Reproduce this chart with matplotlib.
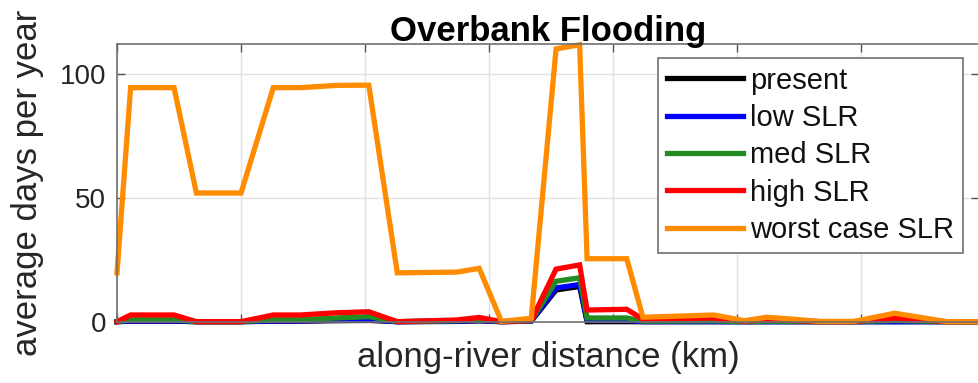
import matplotlib
matplotlib.use("Agg")
import matplotlib.pyplot as plt
import numpy as np

plt.rcParams['font.family'] = ['Liberation Sans', 'DejaVu Sans']

# along-river distance (km) of each sample point
distance_km = [0.0, 0.22, 0.92, 1.28, 2.0, 2.52, 2.96, 3.54, 4.06, 4.52, 5.48, 5.84,
               6.20, 6.68, 7.08, 7.46, 7.58, 8.22, 8.48, 9.62, 10.12, 10.48, 10.90,
               11.34, 11.88, 12.54, 13.38, 13.90]

present = [0.0, 0.2, 0.2, 0.0, 0.0, 0.2, 0.2, 0.4, 0.5, 0.0, 0.1, 0.3,
           0.0, 0.2, 12.8, 14.2, 0.0, 0.0, 0.0, 0.0, 0.0, 0.0, 0.0,
           0.0, 0.0, 0.0, 0.0, 0.0]
low_slr = [0.0, 0.3, 0.3, 0.0, 0.0, 0.3, 0.3, 0.6, 0.8, 0.0, 0.2, 0.5,
           0.0, 0.3, 13.6, 15.0, 0.5, 0.5, 0.0, 0.0, 0.0, 0.0, 0.0,
           0.0, 0.0, 0.0, 0.0, 0.0]
med_slr = [0.0, 0.8, 0.8, 0.0, 0.0, 0.8, 0.8, 1.5, 2.0, 0.0, 0.4, 0.9,
           0.0, 0.4, 16.3, 17.7, 1.5, 1.5, 0.2, 0.3, 0.0, 0.2, 0.1,
           0.0, 0.0, 0.5, 0.0, 0.0]
high_slr = [0.0, 2.7, 2.7, 0.0, 0.0, 2.7, 2.7, 3.6, 4.0, 0.0, 0.7, 1.7,
            0.0, 0.5, 21.2, 22.9, 4.7, 5.0, 1.0, 1.5, 0.2, 0.8, 0.5,
            0.0, 0.0, 1.5, 0.0, 0.0]
worst_slr = [19.7, 94.4, 94.4, 51.9, 51.9, 94.4, 94.4, 95.3, 95.4, 19.7, 20.0, 21.5,
             0.1, 1.4, 110.0, 111.7, 25.4, 25.4, 1.8, 2.7, 0.4, 1.8, 1.0,
             0.1, 0.1, 3.4, 0.0, 0.0]

series_labels = ['present', 'low SLR', 'med SLR', 'high SLR', 'worst case SLR']
series_colors = ['#000000', '#0000ff', '#228b22', '#ff0000', '#ff8c00']
y_ticks = [0, 50, 100]

fig = plt.figure(figsize=(9.79, 3.83), dpi=100)
ax = fig.add_axes([0.1195, 0.1601, 0.8805, 0.7250])

for vals, lab, col in zip([present, low_slr, med_slr, high_slr, worst_slr],
                          series_labels, series_colors):
    ax.plot(distance_km, vals, color=col, lw=3.8, label=lab, clip_on=False,
            solid_joinstyle='miter')

ax.set_xlim(0, 13.90)
ax.set_ylim(0, 112)
ax.set_xticks(np.arange(0, 13.9, 2.0))
ax.set_xticklabels([])
ax.set_yticks(y_ticks)
ax.set_yticklabels([str(t) for t in y_ticks])
ax.grid(True, color='#e2e2e2', lw=1.0)
ax.set_axisbelow(True)
ax.tick_params(direction='in', length=6, width=1, top=True, right=True,
               colors='#555555', labelcolor='#262626', labelsize=20, pad=8)
for s in ax.spines.values():
    s.set_color('#707070')
    s.set_linewidth(1.2)

ax.set_xlabel('along-river distance (km)', fontsize=25, color='#262626', labelpad=6)
ax.set_ylabel('average days per year', fontsize=25, color='#262626', labelpad=11)
ax.set_title('Overbank Flooding', fontsize=25, fontweight='bold', pad=2)

leg = ax.legend(loc='upper right', bbox_to_anchor=(0.981, 0.950), fontsize=21,
                frameon=True, fancybox=False, edgecolor='#707070', framealpha=1,
                handlelength=2.6, handletextpad=0.25, labelspacing=0.32,
                borderpad=0.3, borderaxespad=0)
leg.get_frame().set_linewidth(1.2)
for t in leg.get_texts():
    t.set_color('#111111')

fig.savefig('out.png', dpi=100)
